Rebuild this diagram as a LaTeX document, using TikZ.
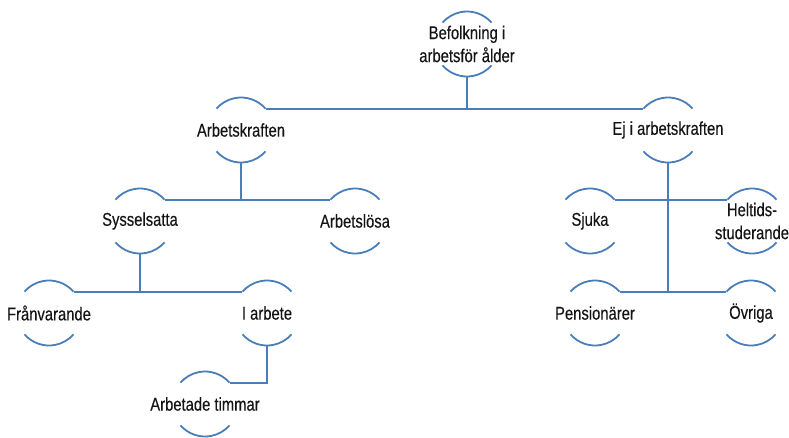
\documentclass[tikz,border=0pt]{standalone}
\usepackage{fontspec}
\setmainfont{Liberation Sans}[FakeStretch=0.8,FakeBold=0.25]
\definecolor{linecol}{HTML}{4A7EBB}
\definecolor{txtcol}{HTML}{141414}
\begin{document}
\begin{tikzpicture}[x=1pt,y=-1pt,
  bub/.style={circle, minimum size=65pt, inner sep=0pt, outer sep=0pt},
  txt/.style={text=txtcol, font=\fontsize{18.5}{23}\selectfont, align=center, inner sep=0pt},
  conn/.style={draw=linecol, line width=1.8pt},
  arcs/.style={draw=linecol, line width=1.8pt}]
\useasboundingbox (0,0) rectangle (789,437);
\node[bub, label={[txt]center:{Befolkning i\\arbetsför ålder}}] (top) at (467,44) {};
\node[bub, label={[txt]center:Arbetskraften}] (ak) at (241,130) {};
\node[bub, label={[txt]center:Ej i arbetskraften}] (ej) at (668,130) {};
\node[bub, label={[txt]center:Sysselsatta}] (sys) at (140,221) {};
\node[bub, label={[txt]center:Arbetslösa}] (al) at (355,221) {};
\node[bub, label={[txt]center:Sjuka}] (sj) at (590,221) {};
\node[bub, label={[txt]center:{Heltids-\\studerande}}] (he) at (752,221) {};
\node[bub, label={[txt]center:Frånvarande}] (fr) at (49,313) {};
\node[bub, label={[txt]center:I arbete}] (ia) at (267,313) {};
\node[bub, label={[txt]center:Pensionärer}] (pe) at (595,313) {};
\node[bub, label={[txt]center:Övriga}] (ov) at (751,313) {};
\node[bub, label={[txt]center:Arbetade timmar}] (at) at (205,404) {};
\foreach \n in {top,ak,ej,sys,al,sj,he,fr,ia,pe,ov,at}{
  \draw[arcs] (\n.41) arc[start angle=41, end angle=139, radius=32.5pt];
  \draw[arcs] (\n.221) arc[start angle=221, end angle=319, radius=32.5pt];
}
\draw[conn] (top.south) -- (top.south |- ak.41);
\draw[conn] (ak.41) -- (ej.139);
\draw[conn] (ak.south) -- (ak.south |- sys.41);
\draw[conn] (sys.41) -- (al.139);
\draw[conn] (sys.south) -- (sys.south |- fr.41);
\draw[conn] (fr.41) -- (ia.139);
\draw[conn] (ia.south) |- (at.41);
\draw[conn] (ej.south) -- (ej.south |- pe.41);
\draw[conn] (sj.41) -- (he.139);
\draw[conn] (pe.41) -- (ov.139);
\end{tikzpicture}
\end{document}
